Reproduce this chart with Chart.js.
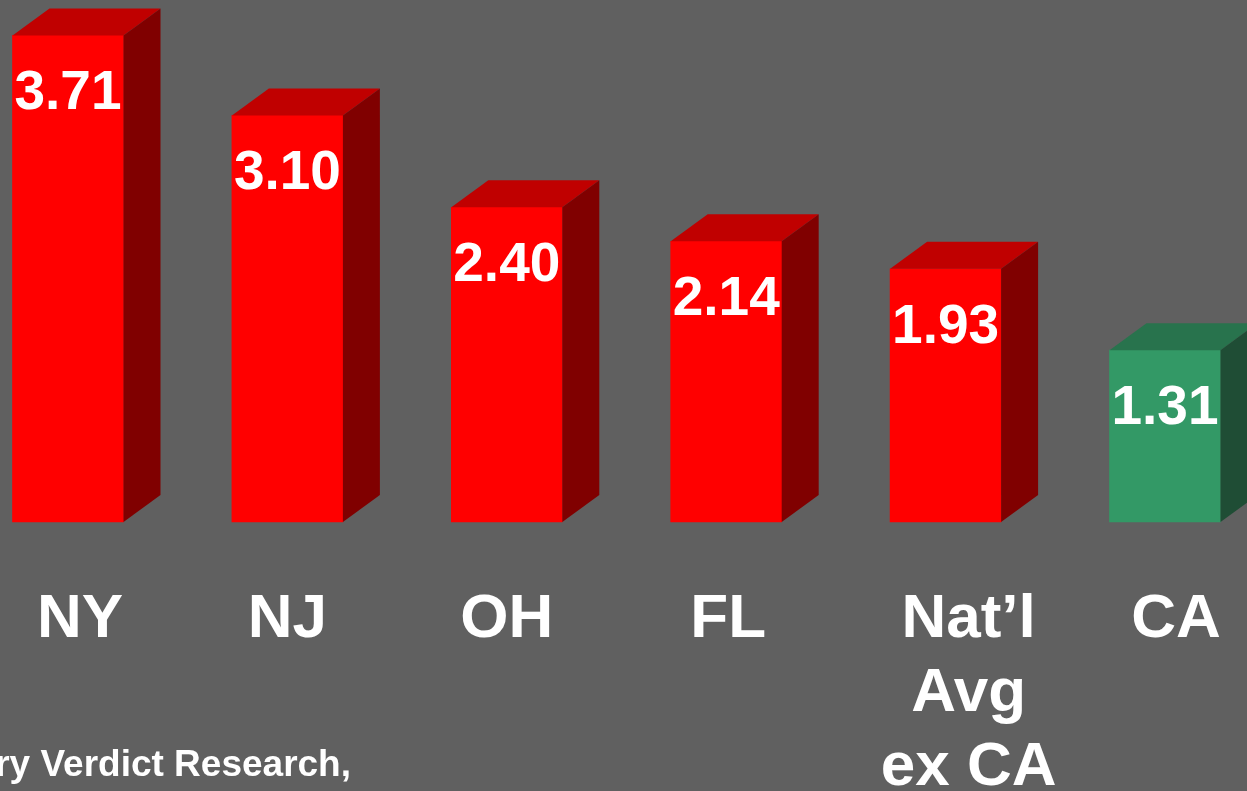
<!DOCTYPE html>
<html>
<head>
<meta charset="utf-8">
<script src="https://cdn.jsdelivr.net/npm/chart.js@4.4.1/dist/chart.umd.min.js"></script>
<style>
  html, body { margin: 0; padding: 0; background: #606060; }
  #wrap { position: relative; width: 1247px; height: 791px; }
</style>
</head>
<body>
<div id="wrap"><canvas id="verdict-chart"></canvas></div>
<script>
const states = ["NY", "NJ", "OH", "FL", ["Nat\u2019l", "Avg", "ex CA"], "CA"];
const ratios = [3.71, 3.10, 2.40, 2.14, 1.93, 1.31];
const sourceNote = "ry Verdict Research,";

const FONT = '"Liberation Sans", Arial, sans-serif';
const redFace = { front: '#ff0000', top: '#c00000', side: '#800000' };
const greenFace = { front: '#339966', top: '#28734d', side: '#1f4d35' };
const faceFor = (label) => (label === 'CA' ? greenFace : redFace);
// the category text boxes in the slide are not quite centred under the bars
const labelNudge = [12, 0, 0, 2, 23, 11];

// draws the 3d top and side of each bar, the value and the category labels
const boxPlugin = {
    id: 'boxes',
    afterDatasetsDraw(chart) {
        const ctx = chart.ctx;
        const meta = chart.getDatasetMeta(0);
        const dx = 37, dy = 27;
        ctx.save();
        meta.data.forEach((bar, i) => {
            const face = faceFor(states[i]);
            const left = bar.x - bar.width / 2;
            const right = bar.x + bar.width / 2;
            const top = bar.y;
            const bottom = bar.base;

            ctx.fillStyle = face.top;
            ctx.beginPath();
            ctx.moveTo(left, top);
            ctx.lineTo(left + dx, top - dy);
            ctx.lineTo(right + dx, top - dy);
            ctx.lineTo(right, top);
            ctx.closePath();
            ctx.fill();

            ctx.fillStyle = face.side;
            ctx.beginPath();
            ctx.moveTo(right, top);
            ctx.lineTo(right + dx, top - dy);
            ctx.lineTo(right + dx, bottom - dy);
            ctx.lineTo(right, bottom);
            ctx.closePath();
            ctx.fill();

            ctx.fillStyle = '#ffffff';
            ctx.textAlign = 'center';
            ctx.textBaseline = 'alphabetic';
            ctx.font = 'bold 55px ' + FONT;
            ctx.fillText(ratios[i].toFixed(2), bar.x, top + 74);

            ctx.font = 'bold 62px ' + FONT;
            const lines = [].concat(states[i]);
            lines.forEach((line, j) => {
                ctx.fillText(line, bar.x + labelNudge[i], bottom + 115 + j * 74);
            });
        });

        ctx.textAlign = 'right';
        ctx.font = 'bold 37px ' + FONT;
        ctx.fillText(sourceNote, 351, 776);
        ctx.restore();
    }
};

const verdictCanvas = document.getElementById('verdict-chart');
let verdictChart = new Chart(verdictCanvas, {
    type: 'bar',
    data: {
        labels: states,
        datasets: [{
            data: ratios,
            backgroundColor: states.map(s => faceFor(s).front),
            borderWidth: 0,
            barThickness: 111,
            clip: false
        }]
    },
    options: {
        responsive: true,
        maintainAspectRatio: false,
        animation: false,
        layout: {
            padding: { left: 68, right: 82, top: 0, bottom: 269 }
        },
        scales: {
            x: { display: false, offset: false },
            y: { display: false, min: 0, max: 3.98 }
        },
        plugins: {
            legend: { display: false },
            tooltip: { enabled: false }
        }
    },
    plugins: [boxPlugin]
});
</script>
</body>
</html>
